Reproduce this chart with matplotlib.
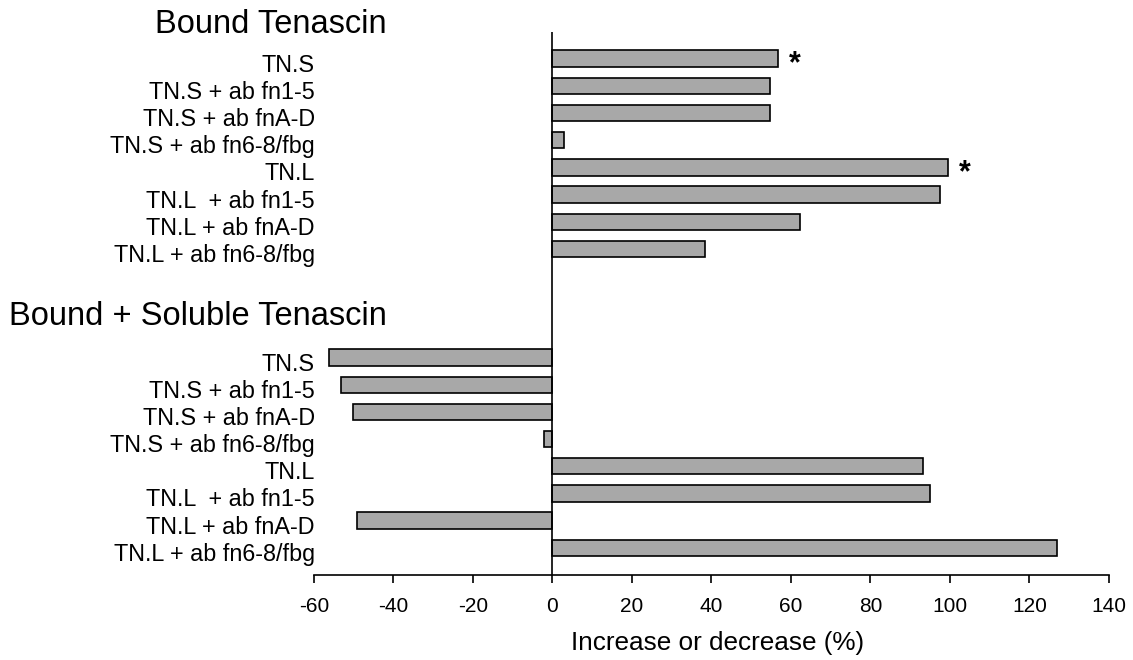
import matplotlib
matplotlib.use("Agg")
import matplotlib.pyplot as plt
from matplotlib.transforms import ScaledTranslation

plt.rcParams['font.family'] = ['Liberation Sans', 'DejaVu Sans']
plt.rcParams['axes.unicode_minus'] = False

categories = ["TN.S", "TN.S + ab fn1-5", "TN.S + ab fnA-D", "TN.S + ab fn6-8/fbg",
              "TN.L", "TN.L  + ab fn1-5", "TN.L + ab fnA-D", "TN.L + ab fn6-8/fbg"]
bound_values = [56.7, 54.6, 54.6, 2.9, 99.6, 97.6, 62.3, 38.3]
bound_soluble_values = [-56.2, -53.2, -50.3, -2.2, 93.1, 95.1, -49.2, 127.0]
significant_bound = [True, False, False, False, True, False, False, False]
group_titles = ["Bound Tenascin", "Bound + Soluble Tenascin"]
xticks = [-60, -40, -20, 0, 20, 40, 60, 80, 100, 120, 140]
xlabel = "Increase or decrease (%)"

fig = plt.figure(figsize=(11.33, 6.6), dpi=100)
ax = fig.add_axes([0.2771, 0.1288, 0.7017, 0.8227])

n = len(categories)
pos_top = list(range(n))
pos_bot = [p + n + 3 for p in range(n)]

bar_kw = dict(height=0.6, color='#a8a8a8', edgecolor='black', linewidth=1.2)
ax.barh(pos_top, bound_values, **bar_kw)
ax.barh(pos_bot, bound_soluble_values, **bar_kw)

for v, p, s in zip(bound_values, pos_top, significant_bound):
    if s:
        ax.annotate("*", xy=(v, p), xytext=(12, -4), textcoords='offset points',
                    ha='center', va='center', fontsize=22, fontweight='bold')

ax.set_xlim(-60, 140)
ax.set_ylim(pos_bot[-1] + 1.0, -0.98)
ax.axvline(0, color='black', linewidth=1.2)
ax.set_xticks(xticks)
ax.set_xticklabels([str(t) for t in xticks], fontsize=15)
ax.set_yticks(pos_top + pos_bot)
ax.set_yticklabels(categories + categories, fontsize=16.8)
ax.tick_params(axis='y', length=0, pad=0)
ax.tick_params(axis='x', direction='out', length=6, width=1.2, pad=10)
for lab in ax.get_yticklabels():
    lab.set_transform(lab.get_transform() + ScaledTranslation(0.01, -0.04, fig.dpi_scale_trans))

for side in ['top', 'right', 'left']:
    ax.spines[side].set_visible(False)
ax.spines['bottom'].set_linewidth(1.2)

fig.text(0.3416, 0.9625, group_titles[0], ha='right', va='center', fontsize=23.5)
fig.text(0.3416, 0.5200, group_titles[1], ha='right', va='center', fontsize=23.5)
fig.text(0.6337, 0.0258, xlabel, ha='center', va='center', fontsize=18.8)

fig.savefig("out.png", dpi=100)
